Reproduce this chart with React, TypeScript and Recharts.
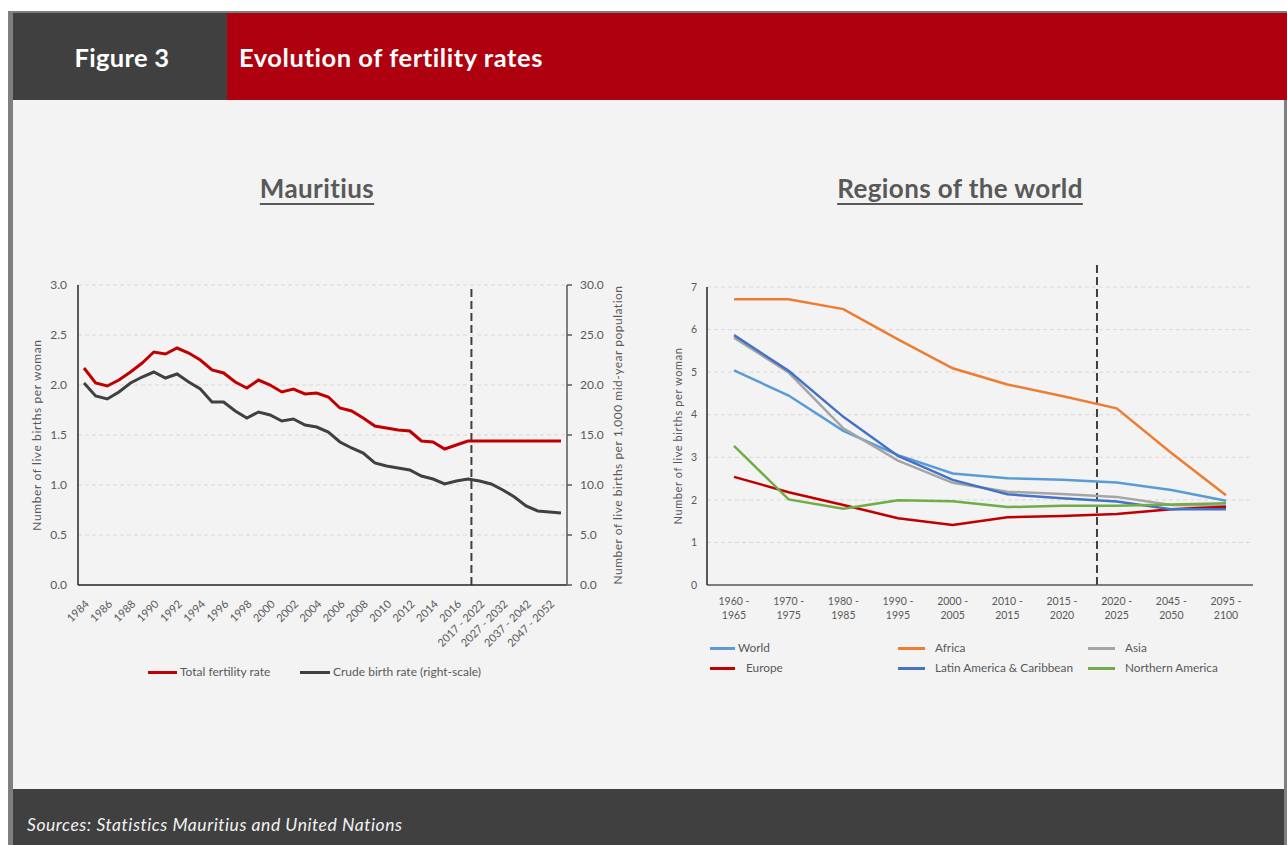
import React from 'react';
import { LineChart, Line, XAxis, YAxis, CartesianGrid, ReferenceLine } from 'recharts';

const FONT = 'Lato, "Open Sans", sans-serif';
const GREY_TEXT = '#595959';

// Mauritius: yearly figures, then projection periods
const mauritiusPeriods = [
  '1984', '1985', '1986', '1987', '1988', '1989', '1990', '1991', '1992', '1993',
  '1994', '1995', '1996', '1997', '1998', '1999', '2000', '2001', '2002', '2003',
  '2004', '2005', '2006', '2007', '2008', '2009', '2010', '2011', '2012', '2013',
  '2014', '2015', '2016', '2017', '2017 - 2022', '2022 - 2027', '2027 - 2032',
  '2032 - 2037', '2037 - 2042', '2042 - 2047', '2047 - 2052', '2052 - 2057',
];
const fertilityRate = [
  2.17, 2.02, 1.99, 2.05, 2.13, 2.22, 2.33, 2.31, 2.37, 2.32,
  2.25, 2.15, 2.12, 2.03, 1.97, 2.05, 2.0, 1.93, 1.96, 1.91,
  1.92, 1.88, 1.77, 1.74, 1.67, 1.59, 1.57, 1.55, 1.54, 1.44,
  1.43, 1.36, 1.4, 1.44, 1.44, 1.44, 1.44, 1.44, 1.44, 1.44, 1.44, 1.44,
];
const crudeBirthRate = [
  20.2, 18.9, 18.6, 19.3, 20.2, 20.8, 21.3, 20.7, 21.1, 20.3,
  19.6, 18.3, 18.3, 17.4, 16.7, 17.3, 17.0, 16.4, 16.6, 16.0,
  15.8, 15.3, 14.3, 13.7, 13.2, 12.2, 11.9, 11.7, 11.5, 10.9,
  10.6, 10.1, 10.4, 10.6, 10.4, 10.1, 9.5, 8.8, 7.9, 7.4, 7.3, 7.2,
];
const fertilityTicks = [0, 0.5, 1, 1.5, 2, 2.5, 3];
const birthTicks = [0, 5, 10, 15, 20, 25, 30];
const mauritiusProjectionMark = 33.3; // position in category index units

// Regions of the world
const regionPeriods = [
  '1960 - 1965', '1970 - 1975', '1980 - 1985', '1990 - 1995', '2000 - 2005',
  '2010 - 2015', '2015 - 2020', '2020 - 2025', '2045 - 2050', '2095 - 2100',
];
const world = [5.04, 4.45, 3.62, 3.05, 2.62, 2.51, 2.47, 2.41, 2.23, 1.98];
const africa = [6.71, 6.71, 6.48, 5.77, 5.09, 4.71, 4.44, 4.15, 3.1, 2.11];
const asia = [5.81, 4.99, 3.68, 2.92, 2.4, 2.19, 2.14, 2.07, 1.88, 1.86];
const europe = [2.54, 2.18, 1.88, 1.57, 1.41, 1.59, 1.62, 1.67, 1.78, 1.84];
const latinAmerica = [5.87, 5.03, 3.95, 3.03, 2.47, 2.13, 2.04, 1.96, 1.78, 1.78];
const northernAmerica = [3.27, 2.01, 1.79, 1.99, 1.97, 1.83, 1.86, 1.86, 1.89, 1.92];
const regionTicks = [0, 1, 2, 3, 4, 5, 6, 7];
const regionProjectionMark = 6.64;

const mauritiusData = mauritiusPeriods.map((p, i) => ({
  period: p,
  tfr: fertilityRate[i],
  cbr: crudeBirthRate[i],
}));

const regionData = regionPeriods.map((p, i) => ({
  period: p,
  world: world[i],
  africa: africa[i],
  asia: asia[i],
  europe: europe[i],
  latin: latinAmerica[i],
  northAm: northernAmerica[i],
}));

const regionSeries = [
  { key: 'world', name: 'World', color: '#5b9bd5' },
  { key: 'africa', name: 'Africa', color: '#ed7d31' },
  { key: 'asia', name: 'Asia', color: '#a5a5a5' },
  { key: 'europe', name: 'Europe', color: '#c00000' },
  { key: 'latin', name: 'Latin America & Caribbean', color: '#4472c4' },
  { key: 'northAm', name: 'Northern America', color: '#70ad47' },
];

function SlantTick({ x, y, payload }: any) {
  return (
    <g transform={`translate(${x},${y})`}>
      <text x={0} y={0} dy={8} textAnchor="end" transform="rotate(-45)" fontSize={11} fill={GREY_TEXT} fontFamily={FONT}>
        {payload.value}
      </text>
    </g>
  );
}

function PeriodTick({ x, y, payload }: any) {
  const [a, b] = String(payload.value).split(' - ');
  return (
    <text x={x} y={y} textAnchor="middle" fontSize={10.5} fill={GREY_TEXT} fontFamily={FONT}>
      <tspan x={x} dy={20}>{a} -</tspan>
      <tspan x={x} dy={14}>{b}</tspan>
    </text>
  );
}

function LegendItem({ color, label, width, gap }: { color: string; label: string; width: number; gap: number }) {
  return (
    <div style={{ display: 'flex', alignItems: 'center' }}>
      <span style={{ width, height: 3, background: color, marginRight: gap }} />
      <span>{label}</span>
    </div>
  );
}

const abs = (left: number, top: number, width: number, height: number, bg?: string): React.CSSProperties => ({
  position: 'absolute', left, top, width, height, background: bg,
});

export default function App() {
  const titleStyle: React.CSSProperties = {
    position: 'absolute', top: 173, width: 400, textAlign: 'center', fontFamily: FONT,
    fontWeight: 700, fontSize: 26, color: GREY_TEXT, textDecoration: 'underline',
    textDecorationThickness: 2, textUnderlineOffset: 5, lineHeight: '30px', letterSpacing: 0.4,
  };
  const axisTitle = { fontSize: 12, fill: GREY_TEXT, fontFamily: FONT, letterSpacing: 0.3 };

  return (
    <div style={{ position: 'absolute', left: 0, top: 0, width: 1287, height: 845, background: '#fff', fontFamily: FONT }}>
      {/* frame */}
      <div style={abs(8, 11, 1279, 834, '#7f7f7f')} />
      <div style={abs(13, 13, 214, 87, '#404040')} />
      <div style={abs(227, 13, 1060, 87, '#ae000e')} />
      <div style={abs(13, 100, 1271, 689, '#f3f3f3')} />
      <div style={abs(13, 789, 1271, 56, '#404040')} />

      <div style={{ position: 'absolute', left: 15, top: 42, width: 214, textAlign: 'center', color: '#fff', fontWeight: 700, fontSize: 25.5, lineHeight: '30px', letterSpacing: 0.3 }}>
        Figure 3
      </div>
      <div style={{ position: 'absolute', left: 239, top: 42, color: '#fff', fontWeight: 700, fontSize: 25.5, lineHeight: '30px', letterSpacing: 0.55 }}>
        Evolution of fertility rates
      </div>
      <div style={{ position: 'absolute', left: 27, top: 814, color: '#f2f2f2', fontStyle: 'italic', fontSize: 17.5, lineHeight: '22px', letterSpacing: 0.55 }}>
        Sources: Statistics Mauritius and United Nations
      </div>

      <div style={{ ...titleStyle, left: 117 }}>Mauritius</div>
      <div style={{ ...titleStyle, left: 760 }}>Regions of the world</div>

      {/* Mauritius chart */}
      <div style={abs(13, 270, 640, 420)}>
        <LineChart width={640} height={420} data={mauritiusData} margin={{ top: 15, right: 26, bottom: 35, left: 0 }}>
          <CartesianGrid vertical={false} yAxisId="left" stroke="#d9d9d9" strokeDasharray="4 3" />
          <XAxis
            dataKey="period"
            interval={1}
            height={70}
            padding={{ left: 6, right: 6 }}
            tickLine={false}
            tickSize={0}
            tickMargin={14}
            tick={<SlantTick />}
            stroke="#262626"
            strokeWidth={1.5}
          />
          <XAxis xAxisId="pos" type="number" domain={[0, mauritiusPeriods.length - 1]} padding={{ left: 6, right: 6 }} allowDataOverflow hide />
          <YAxis
            yAxisId="left"
            width={65}
            domain={[0, 3]}
            ticks={fertilityTicks}
            tickFormatter={(v: number) => v.toFixed(1)}
            tickLine={false}
            tickSize={0}
            tickMargin={11}
            stroke="#262626"
            strokeWidth={1.5}
            tick={{ fontSize: 12, fill: GREY_TEXT, fontFamily: FONT }}
            label={{ value: 'Number  of live births per woman', angle: -90, position: 'insideLeft', offset: 24, style: { ...axisTitle, textAnchor: 'middle', letterSpacing: 0.6 } }}
          />
          <YAxis
            yAxisId="right"
            orientation="right"
            width={60}
            domain={[0, 30]}
            ticks={birthTicks}
            tickFormatter={(v: number) => v.toFixed(1)}
            tickSize={5}
            tickMargin={8}
            stroke="#595959"
            strokeWidth={1.5}
            tick={{ fontSize: 12, fill: GREY_TEXT, fontFamily: FONT }}
            label={{ value: 'Number of live births per 1,000 mid-year population', angle: -90, position: 'insideRight', offset: 9, style: { ...axisTitle, textAnchor: 'middle', letterSpacing: 0.5 } }}
          />
          <ReferenceLine xAxisId="pos" yAxisId="left" x={mauritiusProjectionMark} stroke="#404040" strokeWidth={2} strokeDasharray="8 4" />
          <Line yAxisId="left" dataKey="tfr" stroke="#c00000" strokeWidth={3} dot={false} isAnimationActive={false} />
          <Line yAxisId="right" dataKey="cbr" stroke="#404040" strokeWidth={3} dot={false} isAnimationActive={false} />
        </LineChart>
      </div>
      <div style={{ position: 'absolute', left: 148, top: 664, display: 'flex', fontSize: 12, color: GREY_TEXT, lineHeight: '16px' }}>
        <div style={{ width: 152 }}>
          <LegendItem color="#c00000" label="Total fertility rate" width={29} gap={3} />
        </div>
        <LegendItem color="#404040" label="Crude birth rate (right-scale)" width={30} gap={3} />
      </div>

      {/* Regions chart */}
      <div style={abs(640, 240, 640, 420)}>
        <LineChart width={640} height={420} data={regionData} margin={{ top: 47, right: 27, bottom: 35, left: 17 }}>
          <CartesianGrid vertical={false} stroke="#d9d9d9" strokeDasharray="4 3" />
          <XAxis
            dataKey="period"
            interval={0}
            height={40}
            padding={{ left: 27, right: 27 }}
            tickLine={false}
            tickSize={0}
            tickMargin={0}
            tick={<PeriodTick />}
            stroke="#595959"
            strokeWidth={1.5}
          />
          <XAxis xAxisId="pos" type="number" domain={[0, regionPeriods.length - 1]} padding={{ left: 27, right: 27 }} allowDataOverflow hide />
          <YAxis
            width={50}
            domain={[0, 7]}
            ticks={regionTicks}
            tickLine={false}
            tickSize={0}
            tickMargin={10}
            stroke="#262626"
            strokeWidth={1.5}
            tick={{ fontSize: 10.5, fill: GREY_TEXT, fontFamily: FONT }}
            label={{ value: 'Number  of live births per woman', angle: -90, position: 'insideLeft', offset: 21, style: { ...axisTitle, fontSize: 11, textAnchor: 'middle', letterSpacing: 0.6 } }}
          />
          <ReferenceLine
            xAxisId="pos"
            segment={[{ x: regionProjectionMark, y: 0 }, { x: regionProjectionMark, y: 7.58 }]}
            ifOverflow="visible"
            stroke="#404040"
            strokeWidth={2}
            strokeDasharray="8 4"
          />
          {regionSeries.map(s => (
            <Line key={s.key} dataKey={s.key} stroke={s.color} strokeWidth={2.5} dot={false} isAnimationActive={false} />
          ))}
        </LineChart>
      </div>
      <div style={{ position: 'absolute', left: 710, top: 640, display: 'grid', gridTemplateColumns: '188px 190px 180px', rowGap: 4, fontSize: 11.8, color: GREY_TEXT, lineHeight: '16px' }}>
        {regionSeries.map((s, i) => {
          const gap = s.key === 'world' ? 3 : s.key === 'europe' ? 11 : 10;
          return (
            <div key={s.key}>
              <LegendItem color={s.color} label={s.name} width={i === 0 || i === 3 ? 25 : 27} gap={gap} />
            </div>
          );
        })}
      </div>
    </div>
  );
}
